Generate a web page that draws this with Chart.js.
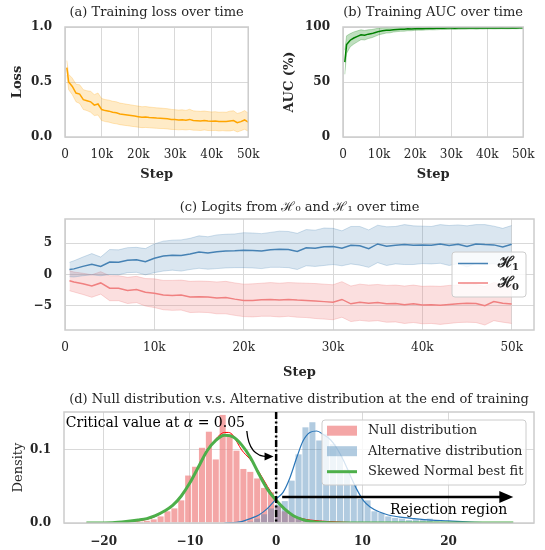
<!DOCTYPE html>
<html>
<head>
<meta charset="utf-8">
<script src="https://cdn.jsdelivr.net/npm/chart.js@4.4.1/dist/chart.umd.min.js"></script>
<style>
html, body { margin: 0; padding: 0; background: #fff; }
#wrap { position: relative; width: 545px; height: 550px; overflow: hidden; }
canvas { position: absolute; }
</style>
</head>
<body>
<div id="wrap">
  <canvas id="lossChart" width="270" height="190" style="left:0px;top:0px"></canvas>
  <canvas id="aucChart" width="275" height="190" style="left:270px;top:0px"></canvas>
  <canvas id="logitChart" width="545" height="195" style="left:0px;top:190px"></canvas>
  <canvas id="distChart" width="545" height="170" style="left:0px;top:380px"></canvas>
</div>
<script>
// training steps (x positions shared by panels a, b, c)
var steps = [500, 1000, 2000, 3000, 4000, 5000, 6000, 7000, 8000, 9000,
  10000, 11000, 12000, 13000, 14000, 15000, 16000, 17000, 18000, 19000,
  20000, 21000, 22000, 23000, 24000, 25000, 26000, 27000, 28000, 29000,
  30000, 31000, 32000, 33000, 34000, 35000, 36000, 37000, 38000, 39000,
  40000, 41000, 42000, 43000, 44000, 45000, 46000, 47000, 48000, 49000, 50000];

// tick values
var stepTicks = [0, 10000, 20000, 30000, 40000, 50000];
var lossTicks = [0, 0.5, 1];
var aucTicks = [0, 50, 100];
var logitTicks = [-5, 0, 5];
var distTicks = [-20, -10, 0, 10, 20];
var densityTicks = [0, 0.1];

// (a) training loss: mean and spread
var lossMean = [0.63, 0.50, 0.46, 0.40, 0.39, 0.34, 0.33, 0.32, 0.29, 0.30,
  0.25, 0.24, 0.235, 0.225, 0.22, 0.21, 0.205, 0.20, 0.195, 0.19,
  0.185, 0.18, 0.182, 0.178, 0.175, 0.172, 0.17, 0.168, 0.165, 0.16,
  0.158, 0.155, 0.157, 0.153, 0.16, 0.15, 0.148, 0.146, 0.15, 0.145,
  0.143, 0.145, 0.14, 0.142, 0.14, 0.145, 0.15, 0.13, 0.14, 0.155, 0.135];
var lossSd = [0.065, 0.07, 0.075, 0.08, 0.085, 0.09, 0.09, 0.095, 0.095, 0.1,
  0.1, 0.1, 0.1, 0.1, 0.1, 0.098, 0.098, 0.097, 0.097, 0.096,
  0.096, 0.095, 0.095, 0.094, 0.094, 0.093, 0.093, 0.092, 0.092, 0.091,
  0.09, 0.09, 0.09, 0.089, 0.092, 0.088, 0.087, 0.087, 0.086, 0.086,
  0.085, 0.085, 0.085, 0.084, 0.085, 0.09, 0.088, 0.084, 0.083, 0.085, 0.082];

// (b) training AUC (%): mean and spread
var aucMean = [68, 84, 88, 90, 91.5, 93, 92.5, 93.5, 94, 95,
  96, 96.5, 97, 97, 97.5, 97.8, 98, 98, 98.3, 98.2,
  98.5, 98.6, 98.5, 98.7, 98.8, 98.7, 98.8, 98.9, 98.9, 99,
  99, 98.9, 99, 99.1, 99, 99.1, 99.1, 99, 99.2, 99.1,
  99.2, 99.2, 99.1, 99.2, 99.3, 99.2, 99.2, 99.3, 99.2, 99.3, 99.3];
var aucSd = [11, 8, 6, 5.5, 5, 4.5, 4.3, 4, 3.7, 3.4,
  3, 2.8, 2.5, 2.3, 2.1, 2, 1.9, 1.8, 1.7, 1.6,
  1.5, 1.5, 1.4, 1.4, 1.3, 1.3, 1.3, 1.2, 1.2, 1.2,
  1.1, 1.1, 1.1, 1.1, 1, 1, 1, 1, 1, 1,
  0.9, 0.9, 0.9, 0.9, 0.9, 0.9, 0.9, 0.8, 0.8, 0.8, 0.8];

// (c) logits under H1 and H0
var h1Mean = [0.8, 0.9, 1.3, 1.65, 1.3, 2.0, 1.95, 2.3, 2.35, 2.05,
  2.6, 2.95, 3.1, 3.05, 3.3, 3.6, 3.45, 3.65, 3.75, 3.8,
  3.9, 3.85, 3.75, 3.95, 4.05, 4.0, 3.7, 4.3, 4.2, 4.45,
  4.5, 4.2, 4.7, 4.6, 4.15, 4.9, 4.55, 4.7, 4.8, 4.7,
  4.75, 4.7, 4.9, 4.65, 4.85, 4.5, 4.9, 4.8, 4.75, 4.4, 4.85];
var h1Sd = [1.15, 1.3, 1.5, 1.7, 1.5, 2.0, 2.0, 2.0, 2.0, 2.1,
  2.3, 2.4, 2.4, 2.5, 2.5, 2.6, 2.6, 2.7, 2.7, 2.7,
  2.8, 2.8, 2.8, 2.8, 2.9, 2.9, 2.9, 2.9, 2.9, 3.0,
  2.9, 2.8, 3.0, 3.1, 3.0, 3.0, 3.1, 3.0, 3.2, 3.1,
  3.0, 3.0, 3.1, 3.2, 3.1, 3.3, 3.1, 3.2, 3.0, 3.0, 3.0];
var h0Mean = [-1.0, -1.2, -1.5, -1.85, -1.35, -2.2, -2.2, -2.55, -2.4, -2.85,
  -3.0, -3.3, -3.35, -3.3, -3.6, -3.55, -3.6, -3.75, -3.7, -3.95,
  -4.15, -4.15, -4.05, -4.0, -4.1, -4.0, -4.1, -4.15, -4.25, -4.35,
  -4.45, -4.0, -4.7, -4.45, -4.6, -4.5, -4.7, -4.65, -4.85, -4.7,
  -4.9, -4.85, -4.95, -4.8, -4.7, -4.6, -4.65, -5.0, -4.35, -4.6, -4.75];
var h0Sd = [1.6, 1.6, 1.7, 1.8, 1.8, 2.0, 2.0, 2.1, 2.1, 2.2,
  2.3, 2.35, 2.4, 2.4, 2.5, 2.5, 2.5, 2.55, 2.6, 2.6,
  2.6, 2.65, 2.65, 2.7, 2.7, 2.7, 2.75, 2.75, 2.8, 2.8,
  2.8, 2.85, 2.85, 2.9, 2.9, 2.9, 2.95, 2.95, 3.0, 3.0,
  3.0, 3.0, 3.05, 3.05, 3.0, 3.05, 3.05, 3.1, 3.05, 3.05, 3.1];
var hypothesisSubscripts = ['1', '0'];

// (d) histograms (bin centres and densities)
var nullBins = [-20.6, -17.4, -15.8, -15.0, -14.2, -13.4, -12.6, -11.8, -11.0, -10.2,
  -9.4, -8.6, -7.8, -7.0, -6.2, -5.4, -4.6, -3.8, -3.0, -2.2,
  -1.4, -0.6, 0.2, 1.0, 1.8, 2.6, 3.4, 4.2, 5.0, 5.8];
var nullDensity = [0.0005, 0.001, 0.002, 0.003, 0.005, 0.009, 0.016, 0.02, 0.031, 0.065,
  0.077, 0.103, 0.125, 0.087, 0.148, 0.122, 0.099, 0.074, 0.07, 0.061,
  0.048, 0.042, 0.023, 0.016, 0.011, 0.007, 0.004, 0.003, 0.002, 0.001];
var altBins = [-3.0, -2.2, -1.4, -0.6, 0.2, 1.0, 1.8, 2.6, 3.4, 4.2,
  5.0, 5.8, 6.6, 7.4, 8.2, 9.0, 9.8, 10.6, 11.4, 12.2,
  13.0, 13.8, 14.6, 15.4, 16.2, 17.0, 17.8, 18.6, 19.4, 20.2,
  21.0, 21.8, 22.6];
var altDensity = [0.002, 0.006, 0.012, 0.02, 0.025, 0.03, 0.058, 0.094, 0.131, 0.138,
  0.113, 0.122, 0.108, 0.092, 0.073, 0.052, 0.033, 0.031, 0.016, 0.014,
  0.009, 0.007, 0.006, 0.004, 0.005, 0.004, 0.006, 0.002, 0.002, 0.001,
  0.001, 0.002, 0.001];

// (d) density curves
var nullKdeX = [-22, -18, -16, -15, -14, -13, -12, -11, -10, -9,
  -8, -7, -6.5, -6, -5.5, -5, -4.5, -4, -3, -2,
  -1, 0, 1, 2, 3, 4, 6, 8, 10];
var nullKdeY = [0, 0.001, 0.003, 0.005, 0.009, 0.016, 0.025, 0.037, 0.054, 0.077,
  0.1, 0.115, 0.121, 0.124, 0.124, 0.12, 0.11, 0.1, 0.087, 0.07,
  0.05, 0.032, 0.018, 0.01, 0.006, 0.004, 0.002, 0.001, 0];
var altKdeX = [-6, -4, -3, -2, -1, 0, 0.8, 1.6, 2.4, 3.1,
  3.9, 4.7, 5.5, 6.3, 7.0, 7.8, 8.6, 9.4, 10.1, 10.9,
  12, 13, 14.4, 16, 18, 20, 22, 24, 26];
var altKdeY = [0, 0.002, 0.006, 0.011, 0.02, 0.033, 0.042, 0.062, 0.09, 0.112,
  0.124, 0.126, 0.121, 0.114, 0.103, 0.086, 0.065, 0.045, 0.031, 0.022,
  0.015, 0.011, 0.008, 0.006, 0.004, 0.003, 0.0015, 0.0005, 0];
var fitX = [-22, -19, -17.4, -16, -15, -14, -13, -12, -11, -10,
  -9, -8, -7, -6, -5, -4, -3, -2, -1, 0,
  1, 2, 3, 4, 5, 7, 27.5];
var fitY = [0, 0.0005, 0.002, 0.004, 0.006, 0.01, 0.016, 0.024, 0.037, 0.055,
  0.077, 0.099, 0.113, 0.12, 0.118, 0.107, 0.09, 0.067, 0.046, 0.031,
  0.019, 0.01, 0.005, 0.002, 0.001, 0, 0];

var criticalValue = 0.0;
var rejectionArrowX = [0.7, 27.5];
var rejectionArrowY = 0.0355;
var distLegendLabels = ['Null distribution', 'Alternative distribution', 'Skewed Normal best fit'];

var SERIF = "'DejaVu Serif', serif";
var GRID = '#d9d9d9';
var TEXT = '#262626';
var LOSS_COLOR = '#ffa500';
var AUC_COLOR = '#008000';
var H1_COLOR = '#4682b4';
var H0_COLOR = '#f08080';
var NULL_BAR = 'rgba(240,128,128,0.7)';
var ALT_BAR = 'rgba(70,130,180,0.42)';
var FIT_COLOR = '#4daf4a';

Chart.defaults.font.family = SERIF;
Chart.defaults.color = TEXT;
Chart.defaults.animation = false;
Chart.defaults.responsive = false;
Chart.defaults.plugins.legend.display = false;
Chart.defaults.plugins.tooltip.enabled = false;
Chart.defaults.elements.point.radius = 0;
Chart.defaults.elements.line.tension = 0;

// light grey frame round every plot area
Chart.register({
  id: 'frame',
  afterDatasetsDraw: function (chart) {
    var a = chart.chartArea, c = chart.ctx;
    c.save();
    c.strokeStyle = '#cccccc';
    c.lineWidth = 1.5;
    c.strokeRect(a.left, a.top, a.right - a.left, a.bottom - a.top);
    c.restore();
  }
});

function pts(xs, ys) {
  return xs.map(function (v, i) { return { x: v, y: ys[i] }; });
}
function shifted(xs, mean, sd, sign, cap) {
  return xs.map(function (v, i) {
    var y = mean[i] + sign * sd[i];
    if (cap !== undefined) y = Math.min(cap, y);
    return { x: v, y: y };
  });
}
var fmtK = function (v) { return v === 0 ? '0' : (v / 1000) + 'k'; };
var fmtMinus = function (v) { return v < 0 ? '\u2212' + Math.abs(v) : String(v); };

function fixedTicks(list) {
  return function (s) { s.ticks = list.map(function (v) { return { value: v }; }); };
}
function xAxis(o) {
  return {
    type: 'linear', min: o.min, max: o.max, offset: false,
    afterBuildTicks: fixedTicks(o.ticks),
    afterFit: function (s) { s.height = o.height; },
    grid: { color: GRID, drawTicks: false, offset: false },
    border: { display: false },
    ticks: {
      padding: o.pad, autoSkip: false, maxRotation: 0,
      font: { size: 12, weight: o.bold ? 'bold' : 'normal' }, callback: o.fmt
    },
    title: o.title ? { display: true, text: o.title, color: TEXT, font: { size: 13, weight: 'bold' },
      padding: { top: 0, bottom: o.titlePad } } : { display: false }
  };
}
function yAxis(o) {
  return {
    type: 'linear', min: o.min, max: o.max,
    afterBuildTicks: fixedTicks(o.ticks),
    afterFit: function (s) { s.width = o.width; },
    grid: { color: GRID, drawTicks: false },
    border: { display: false },
    ticks: {
      padding: 13, autoSkip: false,
      font: { size: 12, weight: 'bold' }, callback: o.fmt
    },
    title: { display: !!o.title, text: o.title, color: TEXT, font: { size: 13, weight: o.titleWeight || 'bold' },
      padding: { top: o.titlePad, bottom: 0 } }
  };
}
function chartTitle(text, top, bottom) {
  return { display: true, fullSize: false, text: text, color: TEXT, font: { size: 13, weight: 'normal' },
    padding: { top: top, bottom: bottom } };
}
function bandSets(mean, sd, line, fillCol, edgeCol, cap) {
  return [
    { data: pts(steps, mean), borderColor: line, borderWidth: 1.5, order: 0 },
    { data: shifted(steps, mean, sd, 1, cap), borderColor: edgeCol, borderWidth: 1, fill: false, order: 1 },
    { data: shifted(steps, mean, sd, -1), borderColor: edgeCol, borderWidth: 1, fill: '-1',
      backgroundColor: fillCol, order: 1 }
  ];
}
function legendBox(ctx, x, y, w, h) {
  ctx.beginPath();
  ctx.roundRect(x, y, w, h, 3);
  ctx.fillStyle = 'rgba(255,255,255,0.8)';
  ctx.fill();
  ctx.strokeStyle = '#cccccc';
  ctx.lineWidth = 1;
  ctx.stroke();
}

// (a) loss
new Chart(document.getElementById('lossChart'), {
  type: 'line',
  data: { datasets: bandSets(lossMean, lossSd, LOSS_COLOR, 'rgba(255,165,0,0.22)', 'rgba(255,165,0,0.25)') },
  options: {
    layout: { padding: { left: 0, right: 15, top: 0, bottom: 0 } },
    plugins: { title: chartTitle('(a) Training loss over time', 4.5, 6.9) },
    scales: {
      x: xAxis({ min: 0, max: 50000, ticks: stepTicks, height: 53, pad: 10.5, fmt: fmtK, title: 'Step', titlePad: 8 }),
      y: yAxis({ min: 0, max: 1, ticks: lossTicks, width: 65, fmt: function (v) { return v.toFixed(1); }, title: 'Loss', titlePad: 9.5 })
    }
  }
});

// (b) AUC
new Chart(document.getElementById('aucChart'), {
  type: 'line',
  data: { datasets: bandSets(aucMean, aucSd, AUC_COLOR, 'rgba(0,128,0,0.25)', 'rgba(0,128,0,0.25)', 100) },
  options: {
    layout: { padding: { left: 0, right: 12, top: 0, bottom: 0 } },
    plugins: { title: chartTitle('(b) Training AUC over time', 4.5, 6.9) },
    scales: {
      x: xAxis({ min: 0, max: 50000, ticks: stepTicks, height: 53, pad: 10.5, fmt: fmtK, title: 'Step', titlePad: 8 }),
      y: yAxis({ min: 0, max: 100, ticks: aucTicks, width: 73, fmt: function (v) { return String(v); }, title: 'AUC (%)', titlePad: 12 })
    }
  }
});

// (c) logits
var logitSets = bandSets(h1Mean, h1Sd, H1_COLOR, 'rgba(70,130,180,0.2)', 'rgba(70,130,180,0.25)')
  .concat(bandSets(h0Mean, h0Sd, H0_COLOR, 'rgba(240,128,128,0.25)', 'rgba(240,128,128,0.3)'));
new Chart(document.getElementById('logitChart'), {
  type: 'line',
  data: { datasets: logitSets },
  options: {
    layout: { padding: { left: 0, right: 11, top: 0, bottom: 0 } },
    plugins: { title: chartTitle('(c) Logits from \u210B\u2080 and \u210B\u2081 over time', 10.2, 3.2) },
    scales: {
      x: xAxis({ min: 0, max: 52500, ticks: stepTicks, height: 55, pad: 11, fmt: fmtK, title: 'Step', titlePad: 4.2 }),
      y: yAxis({ min: -8.9, max: 8.9, ticks: logitTicks, width: 65, fmt: fmtMinus, title: '', titlePad: 0 })
    }
  },
  plugins: [{
    id: 'logitLegend',
    afterDraw: function (chart) {
      var ctx = chart.ctx, a = chart.chartArea;
      var w = 74, h = 45;
      var left = a.right - 8 - w, top = (a.top + a.bottom) / 2 - h / 2;
      ctx.save();
      legendBox(ctx, left, top, w, h);
      [H1_COLOR, H0_COLOR].forEach(function (col, i) {
        var yy = top + 11.5 + i * 19.5;
        ctx.strokeStyle = col;
        ctx.lineWidth = 1.5;
        ctx.beginPath(); ctx.moveTo(left + 6, yy); ctx.lineTo(left + 36, yy); ctx.stroke();
        ctx.fillStyle = TEXT;
        ctx.textAlign = 'left';
        ctx.textBaseline = 'middle';
        ctx.font = 'bold 15px ' + SERIF;
        ctx.fillText('\u210B', left + 46, yy);
        var wH = ctx.measureText('\u210B').width;
        ctx.font = 'bold 10px ' + SERIF;
        ctx.fillText(hypothesisSubscripts[i], left + 46 + wH - 2, yy + 4);
      });
      ctx.restore();
    }
  }]
});

// (d) null vs alternative distribution
new Chart(document.getElementById('distChart'), {
  type: 'bar',
  data: {
    datasets: [
      { type: 'line', data: pts(fitX, fitY), borderColor: FIT_COLOR, borderWidth: 3,
        cubicInterpolationMode: 'monotone', order: 1 },
      { type: 'line', data: pts(altKdeX, altKdeY), borderColor: '#2a76b8', borderWidth: 1.2,
        cubicInterpolationMode: 'monotone', order: 2 },
      { type: 'line', data: pts(nullKdeX, nullKdeY), borderColor: '#ff0000', borderWidth: 1,
        cubicInterpolationMode: 'monotone', order: 3 },
      { type: 'bar', data: pts(altBins, altDensity), backgroundColor: ALT_BAR, borderWidth: 0,
        grouped: false, barPercentage: 0.88, categoryPercentage: 1, order: 4 },
      { type: 'bar', data: pts(nullBins, nullDensity), backgroundColor: NULL_BAR, borderWidth: 0,
        grouped: false, barPercentage: 0.88, categoryPercentage: 1, order: 5 }
    ]
  },
  options: {
    layout: { padding: { left: 0, right: 11, top: 0, bottom: 0 } },
    plugins: { title: chartTitle('(d) Null distribution v.s. Alternative distribution at the end of training', 12.2, 4.2) },
    scales: {
      x: xAxis({ min: -24.6, max: 29.9, ticks: distTicks, height: 27, pad: 11.5, fmt: fmtMinus, bold: true }),
      y: yAxis({ min: 0, max: 0.152, ticks: densityTicks, width: 64, fmt: function (v) { return v.toFixed(1); },
        title: 'Density', titleWeight: 'normal', titlePad: 10.5 })
    }
  },
  plugins: [{
    id: 'annotations',
    afterDatasetsDraw: function (chart) {
      var ctx = chart.ctx, a = chart.chartArea, x = chart.scales.x, y = chart.scales.y;
      ctx.save();
      // critical value line
      var cx = x.getPixelForValue(criticalValue);
      ctx.strokeStyle = '#000';
      ctx.fillStyle = '#000';
      ctx.lineWidth = 2.5;
      ctx.setLineDash([7, 2.5, 2, 2.5]);
      ctx.beginPath(); ctx.moveTo(cx, a.top); ctx.lineTo(cx, a.bottom); ctx.stroke();
      ctx.setLineDash([]);
      // rejection region arrow
      var ry = y.getPixelForValue(rejectionArrowY);
      var rx0 = x.getPixelForValue(rejectionArrowX[0]), rx1 = x.getPixelForValue(rejectionArrowX[1]);
      ctx.beginPath(); ctx.moveTo(rx0, ry); ctx.lineTo(rx1 - 8, ry); ctx.stroke();
      ctx.beginPath(); ctx.moveTo(rx1, ry); ctx.lineTo(rx1 - 14, ry - 6); ctx.lineTo(rx1 - 14, ry + 6); ctx.closePath(); ctx.fill();
      // curved arrow towards the critical value
      var sx = x.getPixelForValue(-3.4), sy = y.getPixelForValue(0.126);
      var qx = x.getPixelForValue(-3.15), qy = y.getPixelForValue(0.091);
      var ex = x.getPixelForValue(-0.3), ey = y.getPixelForValue(0.091);
      ctx.lineWidth = 1.3;
      ctx.beginPath(); ctx.moveTo(sx, sy); ctx.quadraticCurveTo(qx, qy, ex - 6, ey); ctx.stroke();
      ctx.beginPath(); ctx.moveTo(ex, ey); ctx.lineTo(ex - 9, ey - 4); ctx.lineTo(ex - 9, ey + 4); ctx.closePath(); ctx.fill();
      // texts
      ctx.textBaseline = 'middle';
      ctx.textAlign = 'left';
      var tx = x.getPixelForValue(-24.4), ty = y.getPixelForValue(0.1367);
      var parts = [['Critical value at ', ''], ['\u03B1', 'italic '], [' = 0.05', '']];
      parts.forEach(function (p) {
        ctx.font = p[1] + '14px ' + SERIF;
        ctx.fillText(p[0], tx, ty);
        tx += ctx.measureText(p[0]).width;
      });
      ctx.font = '14px ' + SERIF;
      ctx.textAlign = 'center';
      ctx.fillText('Rejection region', x.getPixelForValue(20), y.getPixelForValue(0.0175));
      ctx.restore();
    },
    afterDraw: function (chart) {
      var ctx = chart.ctx, a = chart.chartArea;
      var w = 204, h = 65;
      var left = a.right - 8 - w, top = a.top + 8;
      ctx.save();
      legendBox(ctx, left, top, w, h);
      var colors = [NULL_BAR, ALT_BAR, FIT_COLOR];
      distLegendLabels.forEach(function (lab, i) {
        var yy = top + 10.7 + i * 20.5;
        if (i < 2) {
          ctx.fillStyle = colors[i];
          ctx.fillRect(left + 5, yy - 5, 30, 10);
        } else {
          ctx.strokeStyle = colors[i];
          ctx.lineWidth = 3;
          ctx.beginPath(); ctx.moveTo(left + 5, yy); ctx.lineTo(left + 35, yy); ctx.stroke();
        }
        ctx.fillStyle = TEXT;
        ctx.font = '13px ' + SERIF;
        ctx.textAlign = 'left';
        ctx.textBaseline = 'middle';
        ctx.fillText(lab, left + 46, yy);
      });
      ctx.restore();
    }
  }]
});
</script>
</body>
</html>
